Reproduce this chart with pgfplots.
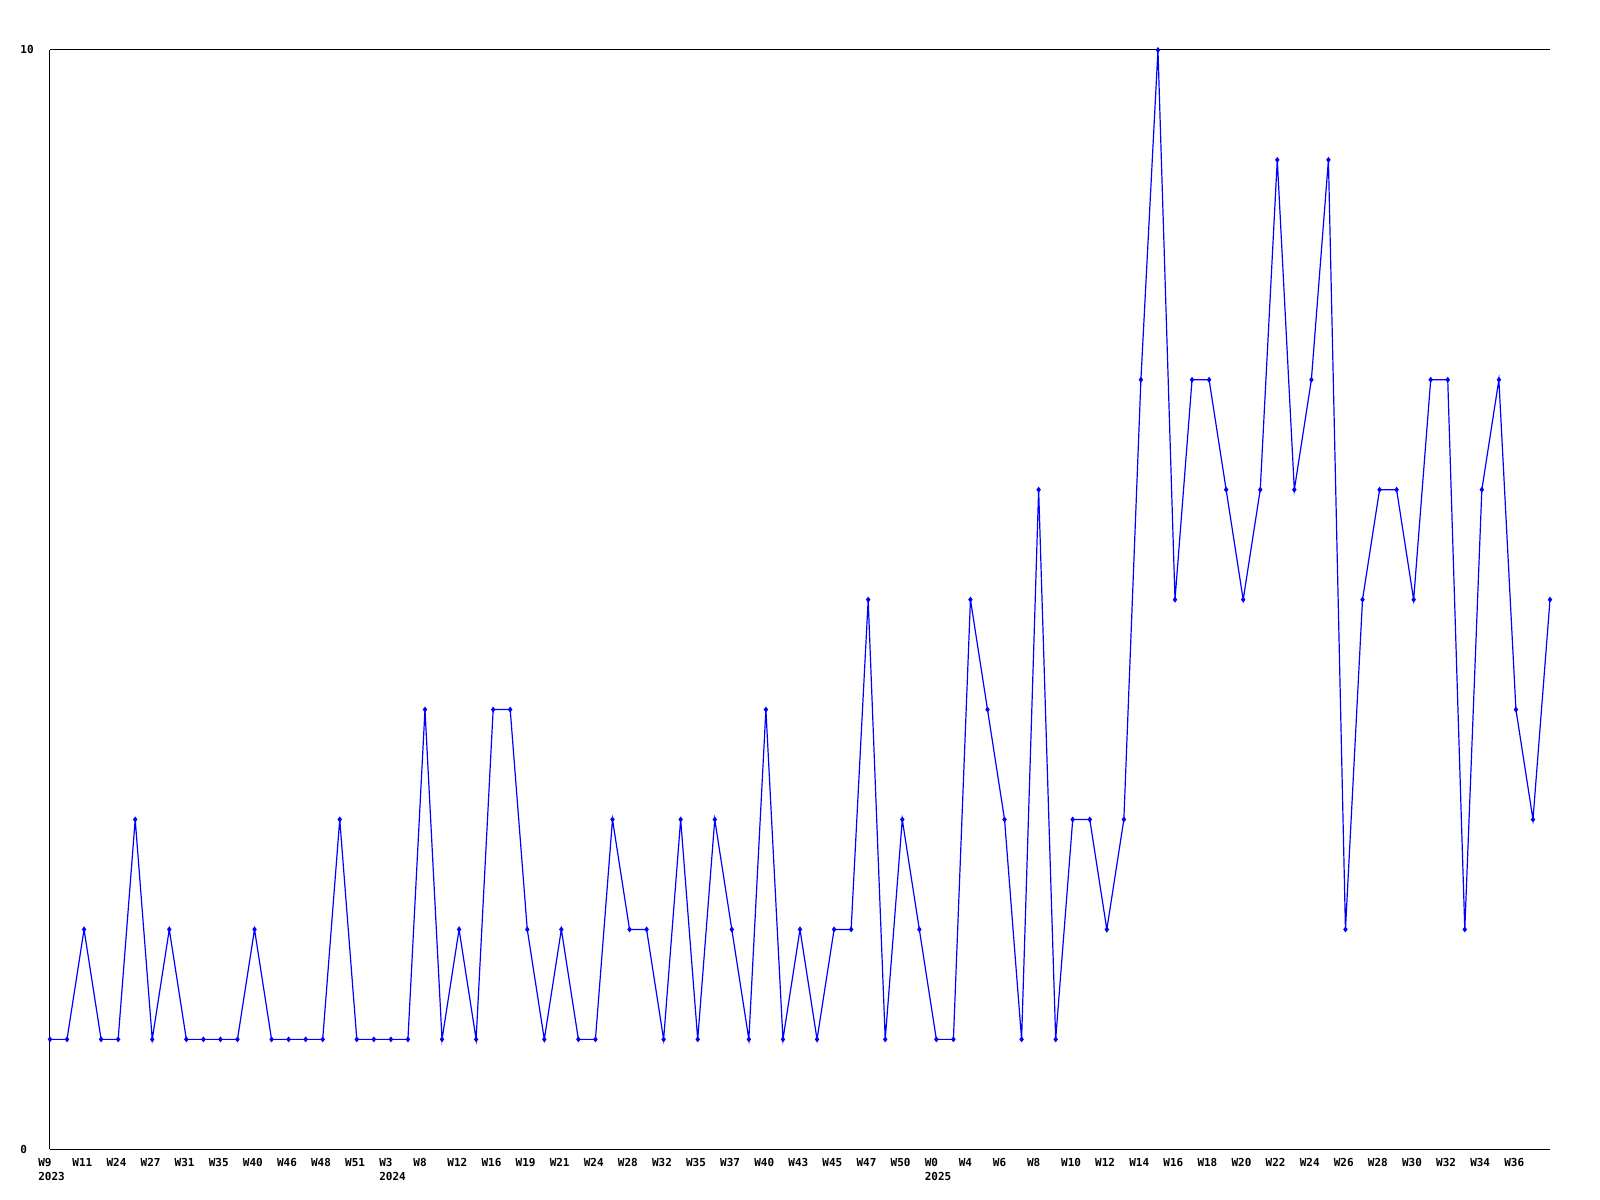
\documentclass[border=0pt]{standalone}
\usepackage{pgfplots}
\pgfplotsset{compat=1.18}
\usepackage{fontspec}
\newfontfamily\tickfont{DejaVu Sans Mono}

\pgfplotstableread{
idx val
0 1
1 1
2 2
3 1
4 1
5 3
6 1
7 2
8 1
9 1
10 1
11 1
12 2
13 1
14 1
15 1
16 1
17 3
18 1
19 1
20 1
21 1
22 4
23 1
24 2
25 1
26 4
27 4
28 2
29 1
30 2
31 1
32 1
33 3
34 2
35 2
36 1
37 3
38 1
39 3
40 2
41 1
42 4
43 1
44 2
45 1
46 2
47 2
48 5
49 1
50 3
51 2
52 1
53 1
54 5
55 4
56 3
57 1
58 6
59 1
60 3
61 3
62 2
63 3
64 7
65 10
66 5
67 7
68 7
69 6
70 5
71 6
72 9
73 6
74 7
75 9
76 2
77 5
78 6
79 6
80 5
81 7
82 7
83 2
84 6
85 7
86 4
87 3
88 5
}\weekly

\begin{document}
\begin{tikzpicture}
\begin{axis}[
    at={(0,0)}, anchor=south west,
    scale only axis,
    width=750.5pt, height=550pt,
    xmin=0, xmax=88, ymin=0, ymax=10,
    axis lines=left,
    axis line style={-, black, line width=0.5pt},
    major tick length=0pt,
    ytick={0,10},
    ymajorgrids, grid style={black, line width=0.5pt},
    xtick={0,2,...,86},
    xticklabels={W9\\2023,W11,W24,W27,W31,W35,W40,W46,W48,W51,
      W3\\2024,W8,W12,W16,W19,W21,W24,W28,W32,W35,W37,W40,W43,W45,W47,W50,
      W0\\2025,W4,W6,W8,W10,W12,W14,W16,W18,W20,W22,W24,W26,W28,W30,W32,W34,W36},
    x tick label style={font=\tickfont\bfseries\fontsize{5.5}{7}\selectfont,
      align=left, anchor=north west, inner sep=0pt, xshift=-6pt, yshift=-4.5pt},
    y tick label style={font=\tickfont\bfseries\fontsize{5.5}{7}\selectfont,
      anchor=west, inner sep=0pt, xshift=-15pt},
    /pgf/number format/assume math mode=true,
]
\addplot[color={rgb,255:red,0;green,0;blue,255}, line width=0.6pt,
    mark=diamond*, mark size=1pt] table[x=idx, y=val] {\weekly};
\end{axis}
\pgfresetboundingbox
\path (-25pt,-25pt) rectangle (775.5pt,575pt);
\end{tikzpicture}
\end{document}
